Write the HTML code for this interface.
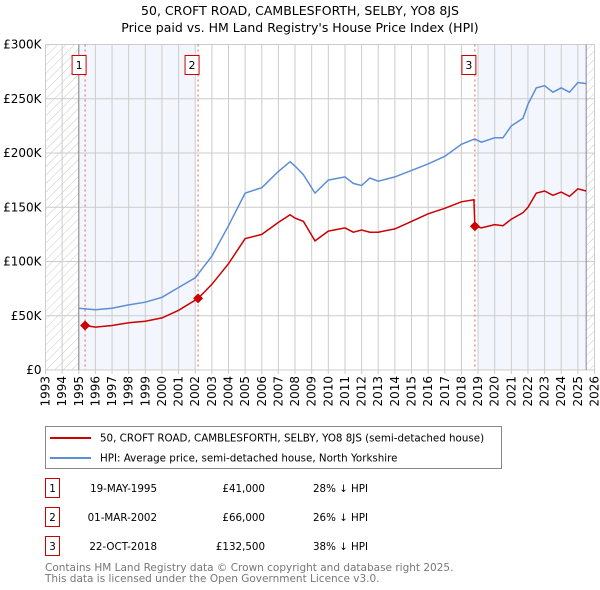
<!DOCTYPE html>
<html><head><meta charset="utf-8"><style>
body{margin:0;background:#fff;width:600px;height:590px;overflow:hidden;font-family:"DejaVu Sans","Liberation Sans",sans-serif}
svg{display:block}
</style></head><body>
<svg id="chart" width="600" height="590" xmlns="http://www.w3.org/2000/svg" font-family="DejaVu Sans, Liberation Sans, sans-serif">
<defs><pattern id="hatch" width="6" height="6" patternUnits="userSpaceOnUse" patternTransform="rotate(45)"><line x1="0" y1="0" x2="0" y2="6" stroke="#bbb" stroke-width="0.8"/></pattern></defs>
<text x="300" y="15" text-anchor="middle" font-size="12.5">50, CROFT ROAD, CAMBLESFORTH, SELBY, YO8 8JS</text>
<text x="300" y="32" text-anchor="middle" font-size="12.5">Price paid vs. HM Land Registry's House Price Index (HPI)</text>
<g id="plot"></g>
<g>
<rect x="45.5" y="426.5" width="456" height="42" fill="#fff" stroke="#888"/>
<line x1="50" y1="438" x2="91" y2="438" stroke="#cc0000" stroke-width="2"/>
<text x="100" y="441.5" font-size="10.3">50, CROFT ROAD, CAMBLESFORTH, SELBY, YO8 8JS (semi-detached house)</text>
<line x1="50" y1="458" x2="91" y2="458" stroke="#5b8ed6" stroke-width="2"/>
<text x="100" y="461.5" font-size="10.3">HPI: Average price, semi-detached house, North Yorkshire</text>
</g>
<g id="table" font-size="10.3"></g>
<text x="45" y="571" font-size="10.5" fill="#777">Contains HM Land Registry data © Crown copyright and database right 2025.</text>
<text x="45" y="582" font-size="10.5" fill="#777">This data is licensed under the Open Government Licence v3.0.</text>
</svg>
<script>
const hpiYears=[1995,1996,1997,1998,1999,2000,2001,2002,2003,2004,2005,2006,2007,2007.7,2008,2008.5,2009.2,2010,2011,2011.5,2012,2012.5,2013,2014,2015,2016,2017,2018,2018.8,2019.2,2020,2020.5,2021,2021.7,2022,2022.5,2023,2023.5,2024,2024.5,2025,2025.5];
const hpiValues=[57,55.5,57,60,62.5,67,76,85,105,133,163,168,183,192,188,180,163,175,178,172,170,177,174,178,184,190,197,208,213,210,214,214,225,232,245,260,262,256,260,256,265,264];
const redYears=[1995.38,1996,1997,1998,1999,2000,2001,2002.17,2003,2004,2005,2006,2007,2007.7,2008,2008.5,2009.2,2010,2011,2011.5,2012,2012.5,2013,2014,2015,2016,2017,2018,2018.75,2018.81,2019.2,2020,2020.5,2021,2021.7,2022,2022.5,2023,2023.5,2024,2024.5,2025,2025.5];
const redValues=[41,39.5,41,43.5,45,48,55,66,79,98,121,125,136,143,140,137,119,128,131,127,129,127,127,130,137,144,149,155,157,132.5,131,134,133,139,145,150,163,165,161,164,160,167,165];
const saleYears=[1995.38,2002.17,2018.81];
const saleValues=[41,66,132.5];
const saleLabels=["1","2","3"];
const saleDates=["19-MAY-1995","01-MAR-2002","22-OCT-2018"];
const salePrices=["£41,000","£66,000","£132,500"];
const saleDiffs=["28% ↓ HPI","26% ↓ HPI","38% ↓ HPI"];
const yTicks=[0,50,100,150,200,250,300];
const yTickLabels=["£0","£50K","£100K","£150K","£200K","£250K","£300K"];
const xTicks=[1993,1994,1995,1996,1997,1998,1999,2000,2001,2002,2003,2004,2005,2006,2007,2008,2009,2010,2011,2012,2013,2014,2015,2016,2017,2018,2019,2020,2021,2022,2023,2024,2025,2026];

const X0=45.5,X1=594.5,Y0=370,Y1=44.5;
const xs=y=>X0+(y-1993)/(2026-1993)*(X1-X0);
const ys=v=>Y0-v/300*(Y0-Y1);
const NS="http://www.w3.org/2000/svg";
const plot=document.getElementById('plot');
function mk(tag,attrs,parent){const e=document.createElementNS(NS,tag);for(const k in attrs)e.setAttribute(k,attrs[k]);(parent||plot).appendChild(e);return e;}
let e;
e=mk('rect',{x:xs(1993),y:Y1,width:xs(1995)-xs(1993),height:Y0-Y1,fill:'url(#hatch)'});


e=mk('rect',{x:xs(2025.5),y:Y1,width:xs(2026)-xs(2025.5),height:Y0-Y1,fill:'url(#hatch)'});


e=mk('rect',{x:xs(1995),y:Y1,width:xs(2002)-xs(1995),height:Y0-Y1,fill:'#f3f6fd'});


e=mk('rect',{x:xs(2019),y:Y1,width:xs(2025.5)-xs(2019),height:Y0-Y1,fill:'#f3f6fd'});


yTicks.forEach((t,i)=>{
 e=mk('line',{x1:X0,x2:X1,y1:ys(t),y2:ys(t),stroke:'#ccc','stroke-width':1});
 
 
 e=mk('text',{x:X0-4,y:ys(t)+4,'text-anchor':'end','font-size':12});
 e.textContent=yTickLabels[i];
 
 
});
xTicks.forEach(t=>{
 e=mk('line',{x1:xs(t),x2:xs(t),y1:Y1,y2:Y0+4,stroke:'#ccc','stroke-width':1});
 
 
 e=mk('text',{x:0,y:0,'text-anchor':'end','font-size':12,transform:`translate(${xs(t)+4},${Y0+6}) rotate(-90)`});
 e.textContent=t;
 
 
});
e=mk('line',{x1:xs(1995),x2:xs(1995),y1:Y1,y2:Y0,stroke:'#888'});


e=mk('line',{x1:xs(2025.5),x2:xs(2025.5),y1:Y1,y2:Y0,stroke:'#888'});


saleYears.forEach((s,i)=>{
 e=mk('line',{x1:xs(s),x2:xs(s),y1:Y1,y2:Y0,stroke:'#e06060','stroke-dasharray':'2,3'});
 
 
});
const path=(xa,va)=>xa.map((x,i)=>(i?'L':'M')+xs(x).toFixed(1)+','+ys(va[i]).toFixed(1)).join('');
e=mk('path',{d:path(hpiYears,hpiValues),fill:'none',stroke:'#5b8ed6','stroke-width':1.5});


e=mk('path',{d:path(redYears,redValues),fill:'none',stroke:'#cc0000','stroke-width':1.5});


saleYears.forEach((s,i)=>{
 const cx=xs(s),cy=ys(saleValues[i]);
 e=mk('path',{d:`M${cx},${cy-5}L${cx+5},${cy}L${cx},${cy+5}L${cx-5},${cy}Z`,fill:'#cc0000'});
 
 
 e=mk('rect',{x:cx-13,y:55.5,width:14,height:19,fill:'#fff',stroke:'#cc0000'});
 
 
 e=mk('text',{x:cx-6,y:69,'text-anchor':'middle','font-size':11});
 e.textContent=saleLabels[i];
 
 
});
const tbl=document.getElementById('table');
saleLabels.forEach((l,i)=>{
 const y=488+i*29;
 e=mk('rect',{x:45.5,y:y-9.5,width:14,height:19,fill:'#fff',stroke:'#cc0000'},tbl);
 
 
 const cells=[[52.5,l,'middle'],[157,saleDates[i],'end'],[265,salePrices[i],'end'],[313,saleDiffs[i],'start']];
 cells.forEach(c=>{
  e=mk('text',{x:c[0],y:y+4,'text-anchor':c[2]},tbl);
  e.textContent=c[1];
  
  
 });
});
</script>
</body></html>
